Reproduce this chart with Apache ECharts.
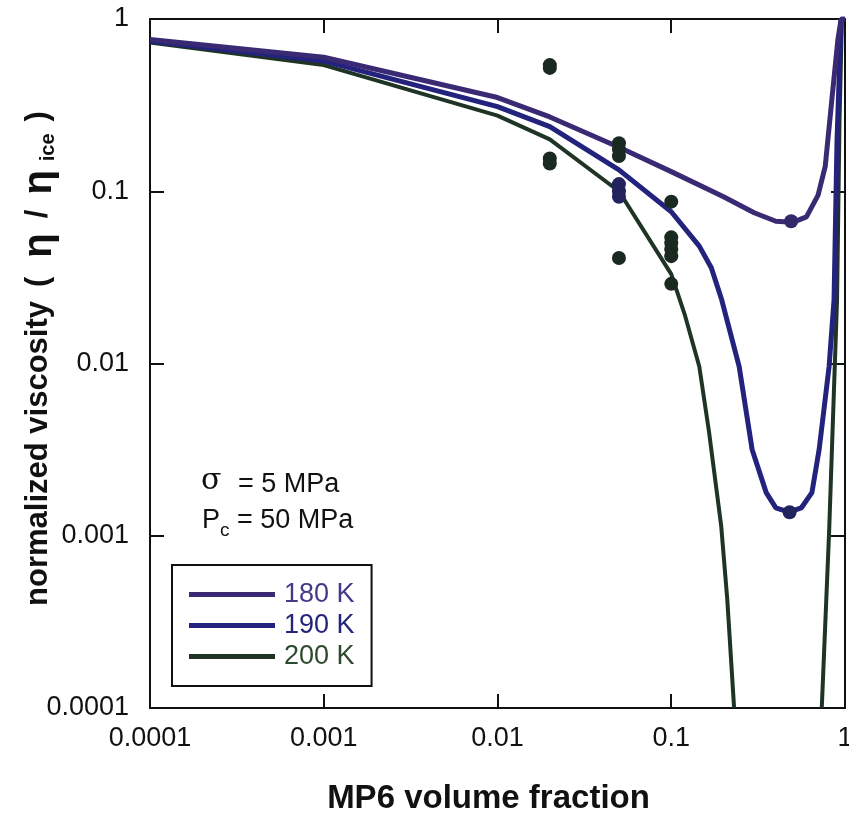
<!DOCTYPE html>
<html><head><meta charset="utf-8">
<script src="https://cdn.jsdelivr.net/npm/echarts@6/dist/echarts.min.js"></script>
<style>html,body{margin:0;padding:0;background:#fff}#c{width:849px;height:815px}</style>
</head><body><div id="c"></div>
<script>
// ---- data ----
const seriesNames = ['180 K', '190 K', '200 K'];
const xTickLabels = ['0.0001', '0.001', '0.01', '0.1', '1'];
const yTickLabels = ['0.0001', '0.001', '0.01', '0.1', '1'];

const x180 = [0.0001, 0.001, 0.01, 0.02, 0.05, 0.1, 0.2, 0.3, 0.4, 0.5, 0.6, 0.7, 0.77, 0.84, 0.91, 0.95, 1];
const y180 = [0.76, 0.60, 0.35, 0.27, 0.18, 0.13, 0.093, 0.075, 0.067, 0.066, 0.071, 0.095, 0.14, 0.34, 0.76, 1.0, 1.0];

const x190 = [0.0001, 0.001, 0.01, 0.02, 0.05, 0.1, 0.145, 0.17, 0.195, 0.246, 0.292, 0.352, 0.40, 0.476, 0.56, 0.645, 0.71, 0.81, 0.865, 0.9, 0.95, 1];
const y190 = [0.745, 0.57, 0.31, 0.237, 0.133, 0.076, 0.048, 0.036, 0.0235, 0.0096, 0.00317, 0.00178, 0.00145, 0.00137, 0.00145, 0.00178, 0.00317, 0.0096, 0.0235, 0.2, 1.0, 1.0];

const x200 = [0.0001, 0.001, 0.01, 0.02, 0.05, 0.1, 0.12, 0.145, 0.165, 0.194, 0.21, 0.23, 0.5, 0.735, 0.81, 0.9, 0.93, 0.96, 1];
const y200 = [0.73, 0.54, 0.275, 0.20, 0.10, 0.033, 0.019, 0.0096, 0.004, 0.00113, 0.00043, 0.0001, null, 0.0001, 0.00105, 0.0235, 0.26, 1.0, 1.0];

// measured points
const ptX = [0.02, 0.02, 0.02, 0.02, 0.05, 0.05, 0.05, 0.05, 0.1, 0.1, 0.1, 0.1, 0.1, 0.1];
const ptY = [0.54, 0.52, 0.155, 0.145, 0.19, 0.175, 0.16, 0.041, 0.087, 0.054, 0.05, 0.046, 0.042, 0.029];
const ptNavyX = [0.05, 0.05, 0.05, 0.48];
const ptNavyY = [0.11, 0.10, 0.093, 0.00137];
const ptPurpleX = [0.49];
const ptPurpleY = [0.067];

// ---- styles ----
const lineColors = ['#3a2a74', '#23237d', '#1f3424'];
const legendTextColors = ['#433a88', '#24247a', '#2e4a2e'];
const lineWidths = [5, 5, 4];
const ptColor = '#1b2a20';

function pairs(xs, ys) { return xs.map((x, i) => [x, ys[i] == null ? '-' : ys[i]]); }
function fmt(labels) { return v => labels[Math.round(Math.log10(v)) + 4]; }

const axisLine = { show: true, lineStyle: { color: '#111', width: 2 } };
const axisTick = { show: true, inside: true, length: 14, lineStyle: { color: '#111', width: 2 } };
const font = 'Liberation Sans, Arial, Helvetica, sans-serif';

const lineSeries = [[x180, y180], [x190, y190], [x200, y200]].map((d, i) => ({
  name: seriesNames[i], type: 'line', data: pairs(d[0], d[1]),
  showSymbol: false, symbol: 'none', connectNulls: false, clip: true,
  lineStyle: { color: lineColors[i], width: lineWidths[i] },
  itemStyle: { color: lineColors[i] },
  z: 5 - i
}));

const tBase = { fontWeight: 'bold', color: '#111', fontFamily: font, lineHeight: 40, verticalAlign: 'middle' };

const chart = echarts.init(document.getElementById('c'), null, { renderer: 'canvas' });
chart.setOption({
  backgroundColor: '#fff',
  animation: false,
  grid: { left: 150, right: 4, top: 19, bottom: 107, outerBoundsMode: 'none', containLabel: false },
  xAxis: [{
    type: 'log', logBase: 10, min: 0.0001, max: 1, interval: 1,
    axisLine, axisTick, splitLine: { show: false }, minorTick: { show: false },
    axisLabel: { margin: 17, fontSize: 27, color: '#111', fontFamily: font, formatter: fmt(xTickLabels) },
    name: 'MP6 volume fraction', nameLocation: 'middle', nameGap: 74, nameMoveOverlap: false,
    nameTextStyle: { fontSize: 33, fontWeight: 'bold', color: '#111', fontFamily: font, padding: [0, 18, 0, 0] }
  }, {
    type: 'log', logBase: 10, min: 0.0001, max: 1, interval: 1, position: 'top',
    axisLine, axisTick, axisLabel: { show: false }, splitLine: { show: false }
  }],
  yAxis: [{
    type: 'log', logBase: 10, min: 0.0001, max: 1, interval: 1,
    axisLine, axisTick, splitLine: { show: false }, minorTick: { show: false },
    axisLabel: { margin: 21, fontSize: 27, color: '#111', fontFamily: font, formatter: fmt(yTickLabels) },
    name: '{n|normalized viscosity}{p|(}{e|η}{sl|/}{e|η}{s|ice}{a|)}', nameLocation: 'middle', nameGap: 92, nameRotate: 90,
    nameMoveOverlap: false,
    nameTextStyle: {
      color: '#111', fontFamily: font,
      rich: {
        n: Object.assign({}, tBase, { fontSize: 31, padding: [0, 0, 0, 10] }),
        a: Object.assign({}, tBase, { fontSize: 31 }),
        p: Object.assign({}, tBase, { fontSize: 31, padding: [0, 12, 0, 14] }),
        e: Object.assign({}, tBase, { fontSize: 40, padding: [4, 7, 0, 7] }),
        sl: Object.assign({}, tBase, { fontSize: 31, padding: [0, 8, 0, 8] }),
        s: Object.assign({}, tBase, { fontSize: 20, verticalAlign: 'bottom', padding: [16, 12, 0, 2] })
      }
    }
  }, {
    type: 'log', logBase: 10, min: 0.0001, max: 1, interval: 1, position: 'right',
    axisLine, axisTick, axisLabel: { show: false }, splitLine: { show: false }
  }],
  legend: {
    orient: 'vertical', left: 172, top: 565,
    padding: [16, 17, 16, 17], itemGap: 4, itemWidth: 86, itemHeight: 5,
    borderColor: '#111', borderWidth: 2, selectedMode: false, icon: 'rect',
    textStyle: { fontSize: 27, fontFamily: font, padding: [0, 0, 0, 4] },
    data: seriesNames.map((n, i) => ({ name: n, textStyle: { color: legendTextColors[i] } }))
  },
  graphic: [
    { type: 'text', left: 201, top: 466, style: { text: 'σ', font: '30px "DejaVu Serif", serif', fill: '#111' } },
    { type: 'text', left: 238, top: 471, style: { text: '= 5 MPa', font: '27px ' + font, fill: '#111' } },
    { type: 'text', left: 202, top: 507, style: { text: 'P', font: '27px ' + font, fill: '#111' } },
    { type: 'text', left: 220, top: 521, style: { text: 'c', font: '19px ' + font, fill: '#111' } },
    { type: 'text', left: 237, top: 507, style: { text: '= 50 MPa', font: '27px ' + font, fill: '#111' } }
  ],
  series: lineSeries.concat([
    { name: 'pts', type: 'scatter', data: pairs(ptX, ptY), symbolSize: 14, itemStyle: { color: ptColor, opacity: 1 }, z: 10 },
    { name: 'ptsNavy', type: 'scatter', data: pairs(ptNavyX, ptNavyY), symbolSize: 14, itemStyle: { color: '#23235e', opacity: 1 }, z: 10 },
    { name: 'ptsPurple', type: 'scatter', data: pairs(ptPurpleX, ptPurpleY), symbolSize: 14, itemStyle: { color: '#33296a', opacity: 1 }, z: 10 }
  ])
});
</script>
</body></html>
